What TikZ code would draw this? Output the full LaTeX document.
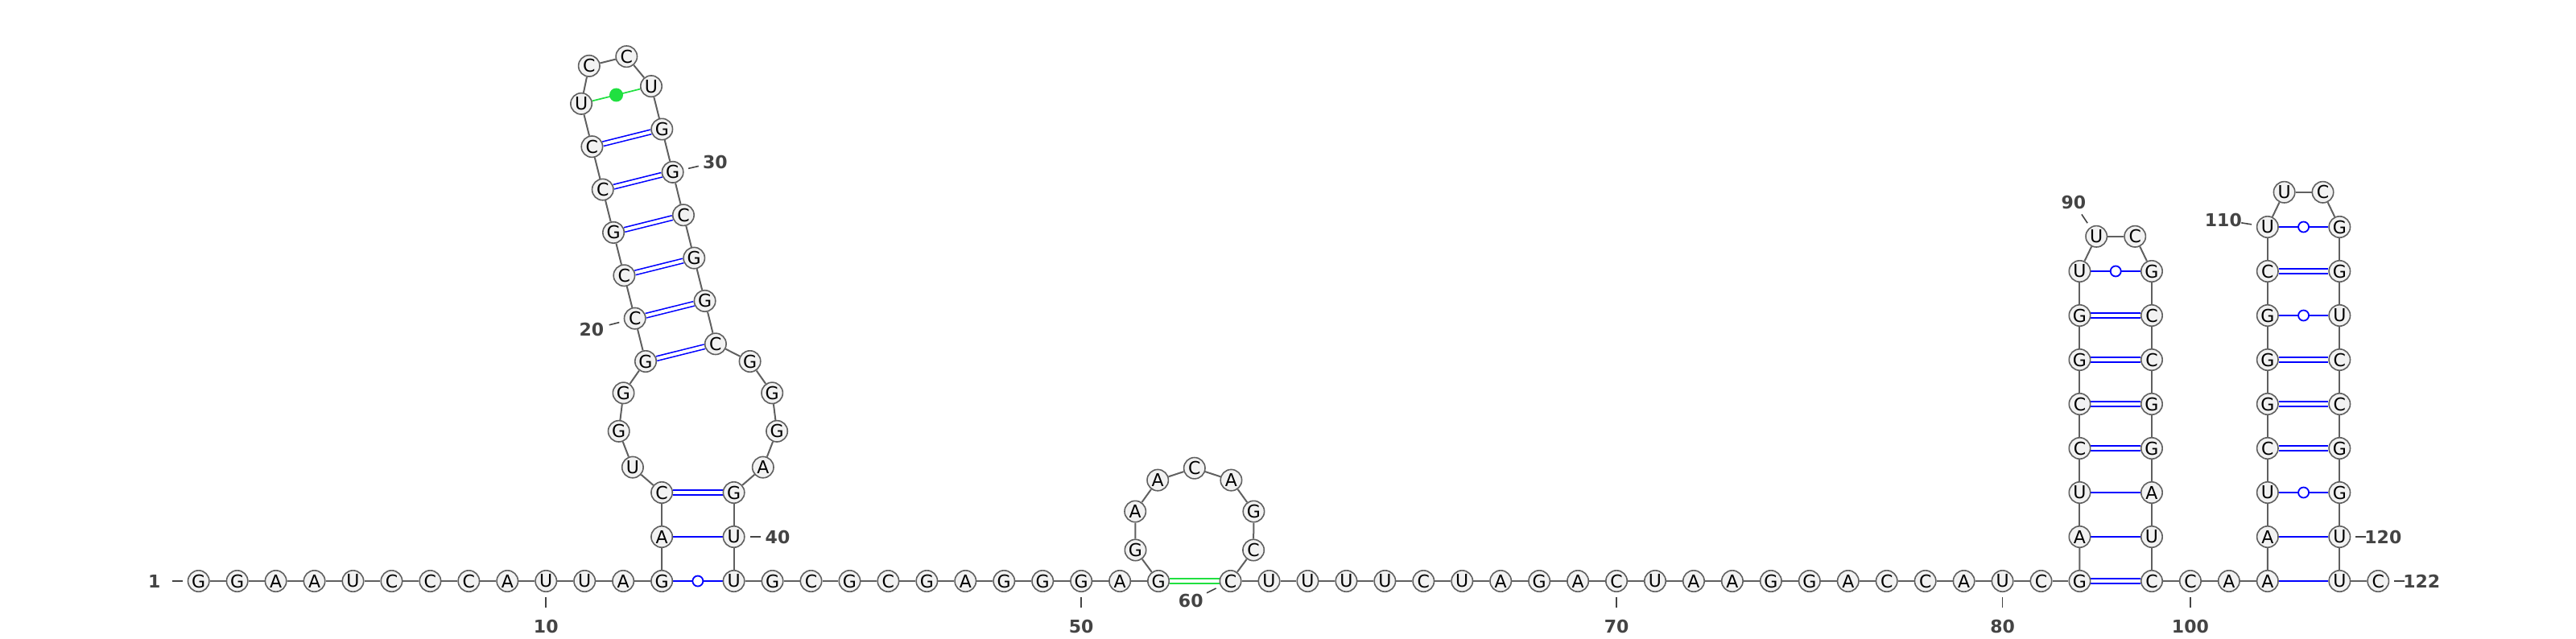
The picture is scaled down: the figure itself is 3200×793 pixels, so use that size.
\documentclass[tikz,border=0pt]{standalone}
\usepackage{fontspec}
\usepackage{tikz}
\usetikzlibrary{calc,backgrounds}
\newfontfamily\ntfont{DejaVu Sans}
\definecolor{RimGray}{HTML}{606060}
\definecolor{NtFill}{HTML}{F2F2F2}
\definecolor{PairBlue}{HTML}{0000FF}
\definecolor{PairGreen}{HTML}{20E040}
\definecolor{NumGray}{HTML}{444444}
\newcommand{\seqnum}[3]{%
  \node[numl] (l#1) at ($(n#1)+(#2,#3)$) {#1};
  \draw[tick] ($(n#1)!20pt!(l#1)$) -- ($(n#1)!33pt!(l#1)$);}

\begin{document}
\begin{tikzpicture}[x=1pt,y=-1pt,
    nt/.style={circle,draw=RimGray,fill=NtFill,line width=1.6pt,minimum size=26.4pt,inner sep=0pt,font=\ntfont\fontsize{22}{22}\selectfont},
    numl/.style={inner sep=0pt,text=NumGray,font=\ntfont\bfseries\fontsize{22}{22}\selectfont},
    tick/.style={NumGray,line width=1.6pt},
    bb/.style={RimGray,line width=2pt},
    cg/.style={PairBlue,line width=1.6pt,double=white,double distance=4pt},
    au/.style={PairBlue,line width=2pt},
    wob/.style={circle,draw=PairBlue,fill=white,line width=1.8pt,minimum size=13pt,inner sep=0pt},
    gg/.style={PairGreen,line width=1.6pt,double=white,double distance=4pt},
    gdot/.style={circle,fill=PairGreen,minimum size=17pt,inner sep=0pt}
  ]
  \useasboundingbox (0,0) rectangle (3200,793);
  % baseline strands
  \foreach \b [count=\i] in {G,G,A,A,U,C,C,C,A,U,U,A,G}
    \node[nt] (n\i) at ({246.7+(\i-1)*47.95},722) {\b};
  \foreach \b [count=\i from 41] in {U,G,C,G,C,G,A,G,G,G,A,G}
    \node[nt] (n\i) at ({911.6+(\i-41)*47.95},722) {\b};
  \foreach \b [count=\i from 60] in {C,U,U,U,U,C,U,A,G,A,C,U,A,A,G,G,A,C,C,A,U,C,G}
    \node[nt] (n\i) at ({1528.55+(\i-60)*47.95},722) {\b};
  \foreach \b [count=\i from 99] in {C,C,A,A}
    \node[nt] (n\i) at ({2672.95+(\i-99)*47.95},722) {\b};
  \node[nt] (n121) at (2906.3,722) {U};
  \node[nt] (n122) at (2954.25,722) {C};
  % left helix with its internal loop
  \node[nt] (n14) at (822.1,667) {A};
  \node[nt] (n15) at (822.1,612) {C};
  \node[nt] (n40) at (911.6,667) {U};
  \node[nt] (n39) at (911.6,612) {G};
  \foreach \i/\b/\x/\y in {16/U/785.9/580.6,17/G/768.7/535.8,18/G/774.5/488.3,19/G/802.0/449.0,
      34/C/888.9/427.3,35/G/931.6/449.0,36/G/959.2/488.3,37/G/965.1/535.8,38/A/947.8/580.6}
    \node[nt] (n\i) at (\x,\y) {\b};
  \foreach \bl/\br [count=\k, evaluate=\k as \i using int(19+\k), evaluate=\k as \j using int(34-\k)] in {C/G,C/G,G/C,C/G,C/G,U/U} {
    \node[nt] (n\i) at ({802.0-13.32*\k},{449.0-53.36*\k}) {\bl};
    \node[nt] (n\j) at ({888.9-13.32*\k},{427.3-53.36*\k}) {\br};
  }
  \node[nt] (n26) at (731.8,81.9) {C};
  \node[nt] (n27) at (778.3,70.2) {C};
  % small loop 52-60
  \foreach \i/\b/\x/\y in {53/G/1410.5/683.5,54/A/1410.2/635.5,55/A/1438.2/596.6,56/C/1483.8/581.7,
      57/A/1529.4/596.6,58/G/1557.4/635.5,59/C/1557.1/683.5}
    \node[nt] (n\i) at (\x,\y) {\b};
  % right hairpins
  \foreach \bl/\br [count=\k, evaluate=\k as \i using int(82+\k), evaluate=\k as \j using int(99-\k)] in {A/U,U/A,C/G,C/G,G/C,G/C,U/G} {
    \node[nt] (n\i) at (2583.45,{722-55*\k}) {\bl};
    \node[nt] (n\j) at (2672.95,{722-55*\k}) {\br};
  }
  \node[nt] (n90) at (2604.2,293.8) {U};
  \node[nt] (n91) at (2652.2,293.8) {C};
  \foreach \bl/\br [count=\k, evaluate=\k as \i using int(102+\k), evaluate=\k as \j using int(121-\k)] in {A/U,U/G,C/G,G/C,G/C,G/U,C/G,U/G} {
    \node[nt] (n\i) at (2816.8,{722-55*\k}) {\bl};
    \node[nt] (n\j) at (2906.3,{722-55*\k}) {\br};
  }
  \node[nt] (n111) at (2837.6,238.8) {U};
  \node[nt] (n112) at (2885.5,238.8) {C};
  % backbone and pairs
  \begin{scope}[on background layer]
    \foreach \i [evaluate=\i as \j using int(\i+1)] in {1,...,121}
      \draw[bb] (n\i) -- (n\j);
    \foreach \i/\j in {15/39,19/34,20/33,21/32,22/31,23/30,24/29,82/99,85/96,86/95,87/94,88/93,105/118,106/117,107/116,109/114}
      \draw[cg] (n\i) -- (n\j);
    \foreach \i/\j in {14/40,83/98,84/97,102/121,103/120}
      \draw[au] (n\i) -- (n\j);
    \foreach \i/\j in {13/41,89/92,104/119,108/115,110/113}
      \draw[au] (n\i) -- (n\j) node[wob,midway] (w\i) {};
    \draw[gg] (n52) -- (n60);
    \draw[au,PairGreen,line width=1.7pt] (n25) -- (n28) node[gdot,midway] (d25) {};
  \end{scope}
  % numbering
  \seqnum{1}{-55}{0}
  \seqnum{10}{0}{56}
  \seqnum{20}{-53.7}{13.7}
  \seqnum{30}{52.7}{-12.2}
  \seqnum{40}{54.4}{0}
  \seqnum{50}{0}{56}
  \seqnum{60}{-49.3}{24.7}
  \seqnum{70}{0}{56}
  \seqnum{80}{0}{56}
  \seqnum{90}{-28.3}{-42.4}
  \seqnum{100}{0}{56}
  \seqnum{110}{-55}{-8.7}
  \seqnum{120}{54}{0}
  \seqnum{122}{54}{0}
\end{tikzpicture}
\end{document}
